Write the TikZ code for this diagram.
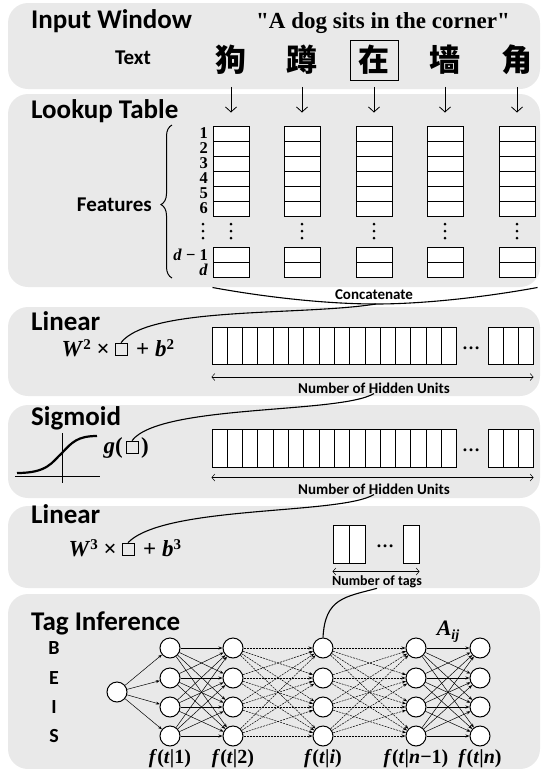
\documentclass[tikz,border=0pt]{standalone}
\usepackage{fontspec}
\setmainfont{Liberation Serif}
\setsansfont{Carlito}
\newfontfamily\cjk{Noto Sans CJK SC}
\usetikzlibrary{positioning,arrows.meta,decorations.pathreplacing,calc}
\definecolor{panelgray}{HTML}{E9E9E9}
\newcommand\fsz[1]{\fontsize{#1}{#1}\selectfont}
\newcommand\upidx[1]{\raisebox{7pt}{\fsz{15}#1}}
\newcommand\lowidx[1]{\raisebox{-4pt}{\fsz{14}\textit{#1}}}
\tikzset{
  panel/.style={fill=panelgray, rounded corners=20pt},
  title/.style={anchor=base west, inner sep=0, font=\sffamily\bfseries\fsz{27}},
  note/.style={inner sep=0, font=\sffamily\bfseries\fsz{15}},
  mth/.style={inner sep=0, font=\bfseries\fsz{23}},
  digit/.style={anchor=east, inner sep=0, font=\bfseries\fsz{16.5}},
  cell/.style={draw, line width=1pt, fill=white, minimum width=36pt, minimum height=15pt, inner sep=0},
  hcell/.style={draw, line width=1pt, fill=white, minimum width=15.3pt, minimum height=37pt, inner sep=0},
  sq/.style={draw, line width=0.8pt, minimum size=12pt, inner sep=0},
  tagnode/.style={circle, draw, line width=1pt, fill=white, minimum size=20pt, inner sep=0},
  link/.style={-{Stealth[length=4pt,width=3pt]}, line width=0.5pt},
  span/.style={{Straight Barb[length=3pt,width=7pt]}-{Straight Barb[length=3pt,width=7pt]}, line width=0.5pt},
  curvy/.style={line width=1.1pt}
}
\begin{document}
\begin{tikzpicture}[x=1pt,y=-1pt]
\useasboundingbox (0,0) rectangle (541,769);
% panels
\fill[panel] (8,3) rectangle (540,89);
\fill[panel] (8,94) rectangle (540,287);
\fill[panel] (8,307) rectangle (540,396);
\fill[panel] (8,405) rectangle (540,498);
\fill[panel] (8,506) rectangle (540,588);
\fill[panel] (8,594) rectangle (540,769);

% input window
\node[title] (inwin) at (31,28) {Input Window};
\node[anchor=base, inner sep=0, font=\bfseries\fsz{23}] (sent) at (383,28) {\textquotedbl A dog sits in the corner\textquotedbl};
\node[note, font=\sffamily\bfseries\fsz{21}] (txt) at (133,58) {Text};

% lookup table
\node[title] (lookup) at (31,118) {Lookup Table};
\foreach \c/\x/\ch in {1/231/狗,2/302/蹲,3/374/在,4/445/墙,5/517/角} {
  \node[inner sep=0, font=\cjk\bfseries\fsz{31}] (ch\c) at (\x,60) {\ch};
  \foreach \r in {1,...,6}
    \node[cell] (t\c-\r) at (\x,{118.5+15*\r}) {};
  \foreach \d in {224,231,238}
    \fill (\x,\d) circle (1.5pt);
  \node[cell] (t\c-a) at (\x,254.5) {};
  \node[cell] (t\c-b) at (\x,269.5) {};
  \draw[-{Straight Barb[length=5pt,width=11pt]}, line width=0.8pt, shorten <=12pt, shorten >=13pt] (ch\c.south) -- (t\c-1.north);
}
\node[draw, line width=1pt, minimum width=48pt, minimum height=40pt] (ch3box) at (ch3) {};

\foreach \r in {1,...,6}
  \node[digit] (n\r) at (208,{118.5+15*\r}) {\r};
\foreach \d in {224,231,238}
  \fill (203,\d) circle (1.5pt);
\node[digit] (ndm) at (208,254.5) {\textit{d} − 1};
\node[digit] (nd) at (208,269.5) {\textit{d}};
\draw[decorate, decoration={brace, amplitude=11pt, aspect=0.48}, line width=1pt] (172,278) -- (172,125);
\node[anchor=east, inner sep=0, font=\sffamily\bfseries\fsz{21}] (feat) at (152,205) {Features};

% concatenate
\coordinate (cl) at ($(t1-b.south west)+(0,10)$);
\coordinate (cr) at ($(t5-b.south east)+(2,10)$);
\coordinate (cm) at (376,304);
\draw[curvy] (cl) .. controls (270,298) and (330,304) .. (cm) .. controls (420,304) and (480,298) .. (cr);
\node[note] (concat) at (374,295) {Concatenate};

% linear 1
\node[title] (lin1) at (31,330) {Linear};
\node[sq] (sq1) at (121,349) {};
\node[mth, anchor=base east] (w2) at (110,356) {\textit{W}\upidx{2} ×};
\node[mth, anchor=base west] (b2) at (136,356) {+ \textit{b}\upidx{2}};
\draw[curvy] (cm) .. controls (300,316) and (150,306) .. (sq1.north);
\foreach \k in {1,...,16}
  \node[hcell] (ha\k) at ({212+15.3*(\k-0.5)},346) {};
\node[inner sep=0, font=\bfseries\fsz{18}] (hadots) at (471,348) {…};
\foreach \k in {1,2,3}
  \node[hcell, minimum width=15pt] (hb\k) at ({488+15*(\k-0.5)},346) {};
\draw[span] ($(ha1.south west)+(0,12)$) -- ($(hb3.south east)+(0,12)$);
\node[note] (nh1) at (374,388) {Number of Hidden Units};

% sigmoid
\node[title] (sig) at (31,425) {Sigmoid};
\draw[line width=0.6pt] (62,433) -- (62,483);
\draw[line width=0.6pt] (15,476) -- (100,476);
\draw[line width=2.2pt] (17,473) .. controls (48,473) and (52,462) .. (62,453) .. controls (72,442) and (78,436) .. (97,436);
\node[sq] (sq2) at (132,447) {};
\node[mth, anchor=base east] (gl) at (123,453) {\textit{g}(};
\node[mth, anchor=base west] (gr) at (141,453) {)};
\draw[curvy] (nh1.south) .. controls (340,414) and (160,404) .. (sq2.north);
\foreach \k in {1,...,16}
  \node[hcell, minimum height=38pt] (hc\k) at ({212+15.3*(\k-0.5)},448) {};
\node[inner sep=0, font=\bfseries\fsz{18}] (hcdots) at (471,450) {…};
\foreach \k in {1,2,3}
  \node[hcell, minimum width=15pt, minimum height=38pt] (hd\k) at ({488+15*(\k-0.5)},448) {};
\draw[span] ($(hc1.south west)+(0,10)$) -- ($(hd3.south east)+(0,10)$);
\node[note] (nh2) at (374,489) {Number of Hidden Units};

% linear 2
\node[title] (lin2) at (31,523) {Linear};
\node[sq] (sq3) at (128,549) {};
\node[mth, anchor=base east] (w3) at (117,556) {\textit{W}\upidx{3} ×};
\node[mth, anchor=base west] (b3) at (143,556) {+ \textit{b}\upidx{3}};
\draw[curvy] (nh2.south) .. controls (340,515) and (165,505) .. (sq3.north);
\node[hcell, minimum width=16pt, minimum height=38pt] (tc1) at (341,544) {};
\node[hcell, minimum width=16pt, minimum height=38pt] (tc2) at (357,544) {};
\node[inner sep=0, font=\bfseries\fsz{18}] (tcdots) at (385,546) {…};
\node[hcell, minimum width=16pt, minimum height=38pt] (tc3) at (411,544) {};
\draw[span] ($(tc1.south west)+(0,8)$) -- ($(tc3.south east)+(0,8)$);
\node[note, font=\sffamily\bfseries\fsz{14}] (ntag) at (377,582) {Number of tags};

% tag inference
\node[title] (taginf) at (31,630) {Tag Inference};
\foreach \l/\y in {B/648,E/678,I/707,S/736}
  \node[inner sep=0, font=\sffamily\bfseries\fsz{20}] (lab\l) at (54,\y) {\l};
\node[tagnode] (s0) at (117,692) {};
\foreach \c/\x in {1/170,2/233,3/323,4/416,5/480}
  \foreach \r/\y in {1/648,2/678,3/707,4/736}
    \node[tagnode] (c\c-\r) at (\x,\y) {};
\foreach \r in {1,...,4}
  \draw[link] (s0) -- (c1-\r);
\foreach \r in {1,...,4}
  \foreach \q in {1,...,4} {
    \pgfmathsetmacro\lw{\r==\q ? 0.9 : 0.5}
    \draw[link, line width=\lw pt] (c1-\r) -- (c2-\q);
    \draw[link, line width=\lw pt, dash pattern=on 2pt off 1pt] (c2-\r) -- (c3-\q);
    \draw[link, line width=\lw pt, dash pattern=on 2pt off 1pt] (c3-\r) -- (c4-\q);
    \draw[link, line width=\lw pt] (c4-\r) -- (c5-\q);
  }
\draw[curvy] (ntag.south) .. controls (345,597) and (325,598) .. (c3-1.north);
\path (c4-1) -- node[above=5pt, inner sep=0, font=\bfseries\fsz{22}] (aij) {\textit{A}\lowidx{ij}} (c5-1);
\node[below=3pt of c1-4, inner sep=0, font=\bfseries\fsz{20}] (f1) {\textit{f}(\textit{t}|1)};
\node[below=3pt of c2-4, inner sep=0, font=\bfseries\fsz{20}] (f2) {\textit{f}(\textit{t}|2)};
\node[below=3pt of c3-4, inner sep=0, font=\bfseries\fsz{20}] (fi) {\textit{f}(\textit{t}|\textit{i})};
\node[below=3pt of c4-4, inner sep=0, font=\bfseries\fsz{20}] (fn1) {\textit{f}(\textit{t}|\textit{n}−1)};
\node[below=3pt of c5-4, inner sep=0, font=\bfseries\fsz{20}] (fn) {\textit{f}(\textit{t}|\textit{n})};
\end{tikzpicture}
\end{document}
